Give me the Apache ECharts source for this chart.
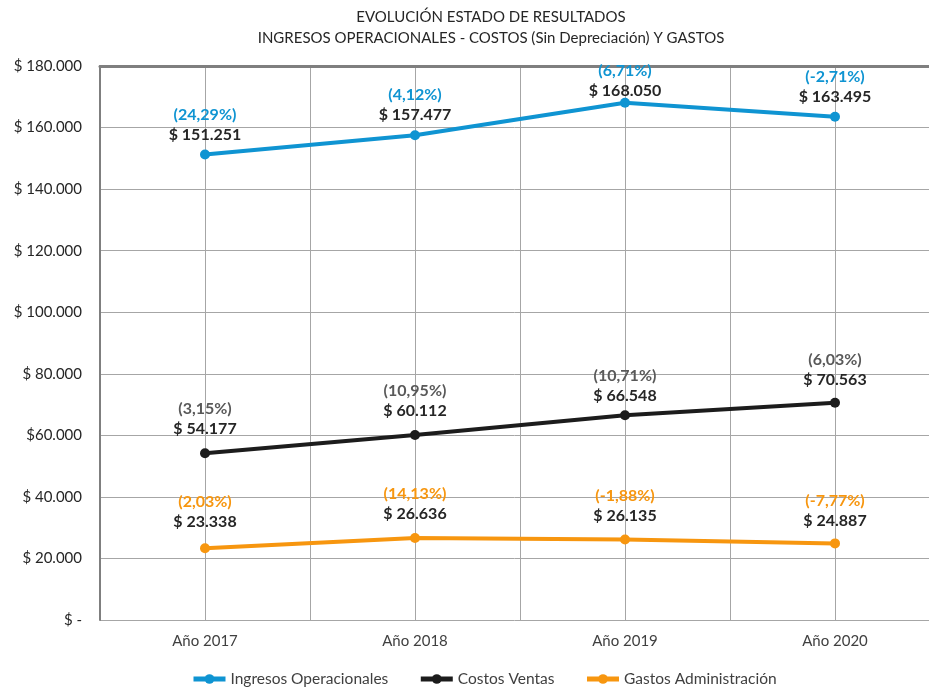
<!DOCTYPE html>
<html>
<head>
<meta charset="utf-8">
<script src="https://cdn.jsdelivr.net/npm/echarts@6/dist/echarts.min.js"></script>
<style>
html,body{margin:0;padding:0;background:#fff;}
#chart{width:929px;height:688px;}
</style>
</head>
<body>
<div id="chart"></div>
<script>
const categories = ['Año 2017', 'Año 2018', 'Año 2019', 'Año 2020'];
const seriesNames = ['Ingresos Operacionales', 'Costos Ventas', 'Gastos Administración'];
const ingresos = [151251, 157477, 168050, 163495];
const ingresosPct = ['(24,29%)', '(4,12%)', '(6,71%)', '(-2,71%)'];
const costos = [54177, 60112, 66548, 70563];
const costosPct = ['(3,15%)', '(10,95%)', '(10,71%)', '(6,03%)'];
const gastos = [23338, 26636, 26135, 24887];
const gastosPct = ['(2,03%)', '(14,13%)', '(-1,88%)', '(-7,77%)'];
const yTickLabels = {
  0: '$ -', 20000: '$ 20.000', 40000: '$ 40.000', 60000: '$60.000', 80000: '$ 80.000',
  100000: '$ 100.000', 120000: '$ 120.000', 140000: '$ 140.000', 160000: '$ 160.000', 180000: '$ 180.000'
};
const titleLines = ['EVOLUCIÓN ESTADO DE RESULTADOS', 'INGRESOS OPERACIONALES - COSTOS (Sin Depreciación) Y GASTOS'];

const FONT = 'Lato';
const colors = ['#0f94d2', '#1c1c1c', '#f7960f'];
const pctColors = ['#0f94d2', '#595959', '#f7960f'];
const pcts = [ingresosPct, costosPct, gastosPct];
const values = [ingresos, costos, gastos];
// label distance above each point (style only)
const labelDist = [[5, 5, -3, 5], [9, 9, 4, 8], [11, 9, 9, 8]];

// plot spans 210px per category from x=100 to the page edge at 929
const X_MAX = -0.5 + 829 / 210;

function fmt(v) {
  return '$ ' + String(v).replace(/\B(?=(\d{3})+(?!\d))/g, '.');
}

const chart = echarts.init(document.getElementById('chart'), null, {renderer: 'canvas'});

const series = values.map((vals, s) => ({
  name: seriesNames[s],
  type: 'line',
  xAxisIndex: 0,
  data: vals.map((v, i) => ({value: [i, v], label: {distance: labelDist[s][i]}})),
  symbol: 'circle',
  symbolSize: 10,
  lineStyle: {width: 4, color: colors[s]},
  itemStyle: {color: colors[s]},
  z: 3,
  label: {
    show: true,
    position: 'top',
    formatter: p => '{p|' + pcts[s][p.dataIndex] + '}\n{v|' + fmt(p.value[1]) + '}',
    rich: {
      p: {color: pctColors[s], fontFamily: FONT, fontWeight: 'bold', fontSize: 16, lineHeight: 20, align: 'center'},
      v: {color: '#262626', fontFamily: FONT, fontWeight: 'bold', fontSize: 16, lineHeight: 20, align: 'center'}
    }
  }
}));

chart.setOption({
  animation: false,
  backgroundColor: '#ffffff',
  title: {
    text: titleLines.join('\n'),
    left: 486,
    textAlign: 'center',
    top: 2,
    textStyle: {fontFamily: FONT, fontSize: 15, fontWeight: 'normal', color: '#262626', lineHeight: 21}
  },
  legend: {
    top: 666,
    left: 186,
    itemWidth: 32,
    itemHeight: 12,
    itemGap: 30,
    lineStyle: {width: 5},
    textStyle: {fontFamily: FONT, fontSize: 15.5, color: '#404040'},
    data: seriesNames
  },
  grid: {left: 100, right: 0, top: 66, bottom: 68, containLabel: false},
  xAxis: [{
    type: 'value',
    min: -0.5,
    max: X_MAX,
    interval: 0.5,
    axisLine: {show: false},
    axisTick: {show: false},
    splitLine: {show: true, lineStyle: {color: '#a6a6a6', width: 1}},
    axisLabel: {
      show: true,
      margin: 14,
      fontFamily: FONT,
      fontSize: 15,
      color: '#404040',
      showMaxLabel: false,
      formatter: v => {
        const r = Math.round(v);
        return (Math.abs(v - r) < 1e-6 && r >= 0 && r < categories.length) ? categories[r] : '';
      }
    }
  }, {
    type: 'value',
    position: 'top',
    min: -0.5,
    max: X_MAX,
    interval: 0.5,
    axisLine: {show: true, lineStyle: {color: '#7f7f7f', width: 3}},
    axisTick: {show: false},
    axisLabel: {show: false},
    splitLine: {show: false}
  }],
  yAxis: {
    type: 'value',
    min: 0,
    max: 180000,
    interval: 20000,
    axisLine: {show: true, onZero: false, lineStyle: {color: '#7f7f7f', width: 2}},
    axisTick: {show: false},
    splitLine: {show: true, lineStyle: {color: '#a6a6a6', width: 1}},
    axisLabel: {
      margin: 18,
      fontFamily: FONT,
      fontSize: 15,
      color: '#262626',
      formatter: v => yTickLabels[v] !== undefined ? yTickLabels[v] : ''
    }
  },
  series: series
});
</script>
</body>
</html>
